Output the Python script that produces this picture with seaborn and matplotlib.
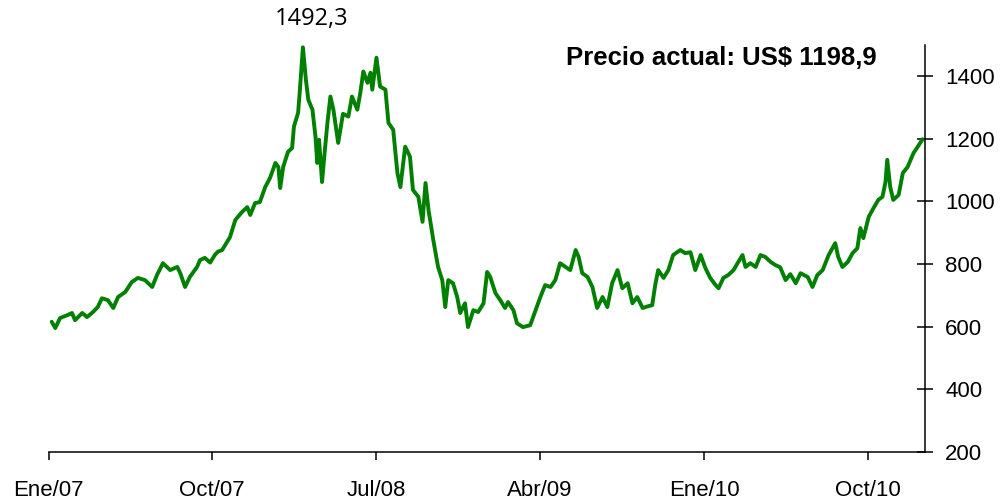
import numpy as np
import pandas as pd
import matplotlib
matplotlib.use('Agg')
import matplotlib.pyplot as plt
import seaborn as sns

# dias desde el 01/01/2007 y precio en US$
dias = [5, 11, 19, 31, 39, 44, 56, 64, 74, 82, 89, 99, 108, 116, 128, 139, 149, 161,
        173, 181, 191, 203, 215, 220, 228, 236, 248, 253, 261, 270, 278, 283,
        290, 303, 312, 323, 332, 337, 345, 353, 362, 370, 379, 384, 387, 392, 400,
        407, 410, 417, 420, 425, 430, 434, 441, 446, 449, 452, 457, 461, 466, 471,
        476, 484, 492, 501, 507, 516, 521, 526, 533, 538, 541, 548, 554, 563, 568,
        576, 583, 588, 596, 604, 609, 618, 625, 630, 635, 643, 651, 658, 663, 668,
        676, 683, 688, 696, 701, 710, 718, 727, 733, 738, 747, 755, 763, 768, 777,
        783, 793, 805, 814, 822, 830, 839, 847, 855, 864, 872, 881, 886, 892, 901,
        909, 917, 926, 934, 942, 951, 959, 968, 976, 984, 993, 1001, 1009, 1014,
        1019, 1028, 1036, 1044, 1056, 1064, 1073, 1081, 1090, 1098, 1106, 1115,
        1120, 1128, 1136, 1145, 1153, 1160, 1165, 1173, 1182, 1190, 1198, 1207,
        1215, 1223, 1232, 1240, 1249, 1257, 1269, 1277, 1285, 1294, 1304, 1315,
        1320, 1327, 1336, 1344, 1352, 1357, 1362, 1371, 1379, 1387, 1394, 1399,
        1402, 1407, 1412, 1421, 1428, 1436, 1441, 1446, 1453, 1461]
precio = [616, 596, 628, 637, 644, 621, 644, 631, 647, 663, 691, 685, 660, 695, 711, 743, 756, 749,
          727, 765, 803, 781, 791, 771, 727, 759, 791, 813, 820, 805, 830, 840,
          845, 886, 941, 966, 982, 957, 995, 998, 1046, 1075, 1123, 1110, 1043, 1110, 1158,
          1171, 1239, 1283, 1357, 1492.3, 1389, 1325, 1293, 1207, 1123, 1197, 1062, 1149, 1251, 1335,
          1293, 1187, 1280, 1271, 1335, 1293, 1347, 1415, 1379, 1411, 1357, 1459, 1367, 1357, 1251,
          1229, 1091, 1046, 1175, 1143, 1037, 1015, 935, 1059, 973, 877, 791, 749, 663, 749,
          739, 695, 644, 675, 599, 653, 647, 675, 775, 760, 707, 685, 660, 679, 653,
          611, 599, 605, 653, 695, 733, 727, 749, 803, 791, 781, 845, 823, 771, 759,
          727, 660, 695, 663, 739, 781, 723, 739, 675, 695, 660, 665, 669, 733,
          781, 756, 781, 829, 845, 835, 838, 781, 829, 787, 756, 733,
          723, 756, 765, 781, 807, 829, 791, 803, 791, 829, 823, 807,
          797, 790, 749, 768, 739, 771, 759, 727, 765, 781, 829, 867,
          823, 791, 807, 835, 851, 915, 883, 951, 979, 1005, 1015, 1062,
          1133, 1046, 1005, 1021, 1091, 1110, 1133, 1155, 1175, 1198.9]

inicio = pd.Timestamp('2007-01-01')
fecha_fin = pd.Timestamp('2011-01-05')
meses_ticks = ['2007-01-01', '2007-10-01', '2008-07-01', '2009-04-01', '2010-01-01', '2010-10-01']
etiquetas_x = ['Ene/07', 'Oct/07', 'Jul/08', 'Abr/09', 'Ene/10', 'Oct/10']
ticks_y = [200, 400, 600, 800, 1000, 1200, 1400]
maximo = 1492.3
actual = 1198.9

df = pd.DataFrame({'fecha': inicio + pd.to_timedelta(dias, unit='D'), 'precio': precio})

sns.set_style('white')
plt.rcParams['font.family'] = ['Liberation Sans', 'DejaVu Sans']

fig = plt.figure(figsize=(10.02, 5.04), dpi=100)
ax = fig.add_axes([0.0486, 0.103, 0.8745, 0.808])

sns.lineplot(data=df, x='fecha', y='precio', ax=ax, color='#008000', linewidth=2.8)

ax.set_xlim(inicio, fecha_fin)
ax.set_ylim(200, 1500)
ax.set_xticks(pd.to_datetime(meses_ticks))
ax.set_xticklabels(etiquetas_x, fontsize=16, color='black')
ax.set_yticks(ticks_y)
ax.set_yticklabels([str(t) for t in ticks_y], fontsize=16, color='black')
ax.set_xlabel('')
ax.set_ylabel('')

ax.yaxis.tick_right()
ax.xaxis.tick_bottom()
ax.spines['left'].set_visible(False)
ax.spines['top'].set_visible(False)
for lado in ['right', 'bottom']:
    ax.spines[lado].set_visible(True)
    ax.spines[lado].set_color('black')
    ax.spines[lado].set_linewidth(1.1)
ax.tick_params(axis='y', right=True, direction='inout', length=11, width=1.1, pad=9, colors='black')
ax.tick_params(axis='x', bottom=True, direction='out', length=6, width=1.1, pad=14, colors='black')

i_max = int(np.argmax(precio))
ax.annotate(f'{maximo:.1f}'.replace('.', ','), xy=(df['fecha'][i_max], maximo),
            xytext=(6, 20), textcoords='offset points', ha='center', va='center',
            fontsize=17, color='black', family=['Open Sans', 'DejaVu Sans'], annotation_clip=False)
ax.text(0.945, 0.968, f'Precio actual: US$ {actual:.1f}'.replace('.', ','),
        transform=ax.transAxes, ha='right', va='center', fontsize=18.5, fontweight='bold',
        color='black')

fig.savefig('out.png', dpi=100)
